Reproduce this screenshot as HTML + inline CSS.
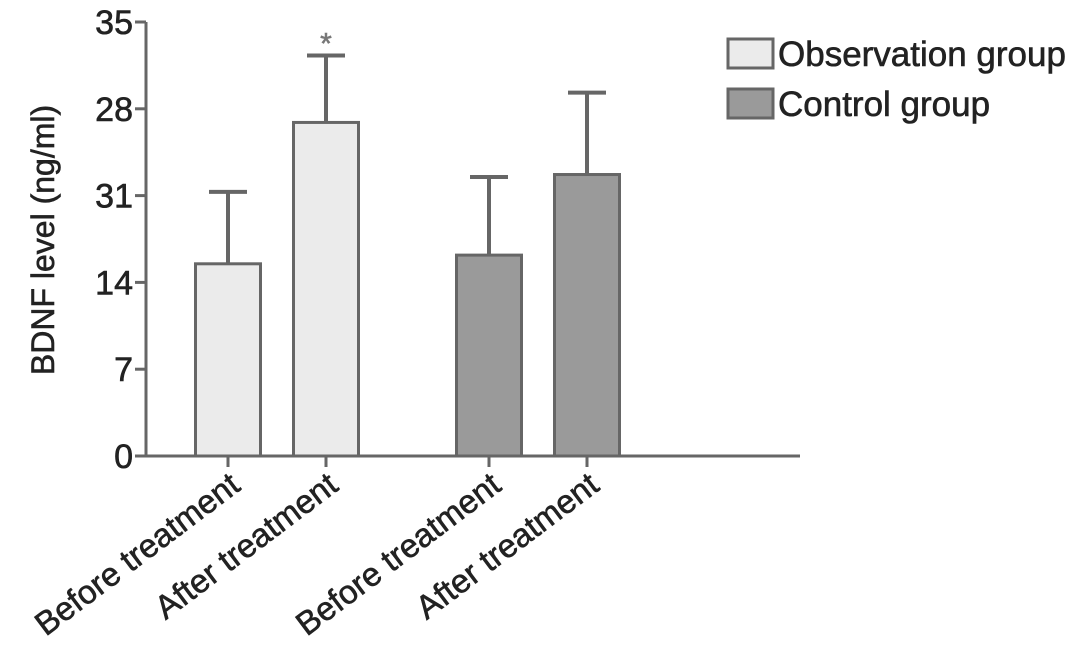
<!DOCTYPE html>
<html><head><meta charset="utf-8"><style>
body{margin:0;background:#fff;}
svg{display:block;font-family:"Liberation Sans",Arial,sans-serif;}
svg text{stroke:#222;stroke-width:0.6px;}
</style></head><body>
<svg id="chart" width="1087" height="657" viewBox="0 0 1087 657"></svg>
<script>
const categories = ["Before treatment","After treatment","Before treatment","After treatment"];
const groups = ["obs","obs","ctl","ctl"];
const values = [15.5, 26.9, 16.2, 22.7];
const errors = [5.8, 5.4, 6.3, 6.6];
const tickValues = [0,7,14,21,28,35];
const tickLabels = ["0","7","14","31","28","35"];
const legendLabels = ["Observation group","Control group"];

const svg = document.getElementById('chart');
const NS = 'http://www.w3.org/2000/svg';
const y0 = 456, yTop = 22, xAxis = 146, xEnd = 800;
const y = v => y0 - (v/35)*(y0-yTop);
const barCenters = [228, 326, 489, 587];
const barW = 65;
const fills = {obs:'#ebebeb', ctl:'#9a9a9a'};
const stroke = '#666';
function el(tag, attrs, parent){const e=document.createElementNS(NS,tag);for(const k in attrs)e.setAttribute(k,attrs[k]);(parent||svg).appendChild(e);return e;}

const yAxis = el('line',{x1:xAxis,y1:yTop,x2:xAxis,y2:y0,stroke:stroke,'stroke-width':3});


const xLine = el('line',{x1:xAxis-1,y1:y0,x2:xEnd,y2:y0,stroke:stroke,'stroke-width':3});



tickValues.forEach((v,i)=>{
  const t = el('line',{x1:xAxis-11,y1:y(v),x2:xAxis,y2:y(v),stroke:stroke,'stroke-width':3});
  
  
  const tx = el('text',{x:xAxis-13,y:y(v)+12,'text-anchor':'end','font-size':34,fill:'#222'});
  tx.textContent = tickLabels[i];
  
  
});

const yt = el('text',{x:0,y:0,transform:'translate(54,240) rotate(-90)','text-anchor':'middle','font-size':32,fill:'#222'});
yt.textContent='BDNF level (ng/ml)';



values.forEach((v,i)=>{
  const cx = barCenters[i];
  const top = y(v), et = y(v+errors[i]);
  const eb = el('line',{x1:cx,y1:top,x2:cx,y2:et,stroke:stroke,'stroke-width':4});
  
  
  const cap = el('line',{x1:cx-19,y1:et,x2:cx+19,y2:et,stroke:stroke,'stroke-width':4});
  
  
  const r = el('rect',{x:cx-barW/2,y:top,width:barW,height:y0-top,fill:fills[groups[i]],stroke:stroke,'stroke-width':3});
  
  
  const tk = el('line',{x1:cx,y1:y0,x2:cx,y2:y0+11,stroke:stroke,'stroke-width':3});
  
  
  const lb = el('text',{x:0,y:0,transform:`translate(${cx+14},${y0+33}) rotate(-37)`,'text-anchor':'end','font-size':33,fill:'#222'});
  lb.textContent = categories[i];
  
  
  if(i===1){
    const s = el('text',{x:cx,y:et-2,'text-anchor':'middle','font-size':30,fill:'#777',style:'stroke:#777'});
    s.textContent='*';
    
    
  }
});

legendLabels.forEach((l,i)=>{
  const yy = 39 + i*50;
  const b = el('rect',{x:728,y:yy,width:45,height:29,fill:i===0?fills.obs:fills.ctl,stroke:stroke,'stroke-width':3});
  
  
  const t = el('text',{x:778,y:yy+27,'font-size':35,fill:'#222'});
  t.textContent = l;
  
  
});
</script>
</body></html>
